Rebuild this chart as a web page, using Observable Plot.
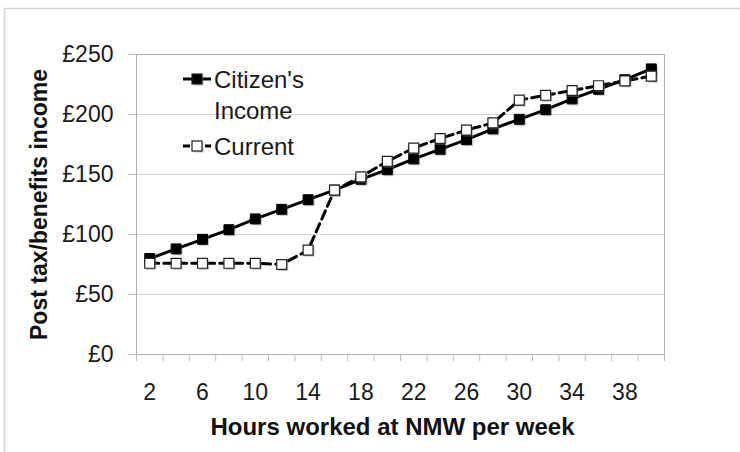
<!DOCTYPE html>
<html>
<head>
<meta charset="utf-8">
<script src="https://cdn.jsdelivr.net/npm/d3@7"></script>
<script src="https://cdn.jsdelivr.net/npm/@observablehq/plot@0.6"></script>
<style>
  body { margin: 0; background: #fff; }
  #chart { width: 740px; height: 452px; overflow: hidden; }
</style>
</head>
<body>
<div id="chart"></div>
<script>
const hours = [2, 4, 6, 8, 10, 12, 14, 16, 18, 20, 22, 24, 26, 28, 30, 32, 34, 36, 38, 40];
const citizensIncome = [80, 88, 96, 104, 113, 121, 129, 137, 146, 154, 163, 171, 179, 188, 196, 204, 213, 221, 229, 238];
const current = [76, 76, 76, 76, 76, 75, 87, 137, 148, 161, 172, 180, 187, 193, 212, 216, 220, 224, 228, 232];
const xTickLabels = [2, 6, 10, 14, 18, 22, 26, 30, 34, 38];
const xCategoryEdges = [1, 3, 5, 7, 9, 11, 13, 15, 17, 19, 21, 23, 25, 27, 29, 31, 33, 35, 37, 39, 41];
const yTicks = [0, 50, 100, 150, 200, 250];
const seriesNames = ["Citizen's\nIncome", "Current"];
const xTitle = "Hours worked at NMW per week";
const yTitle = "Post tax/benefits income";

const ciData = hours.map((h, i) => ({hours: h, value: citizensIncome[i]}));
const curData = hours.map((h, i) => ({hours: h, value: current[i]}));

const font = "Liberation Sans, Arial, Helvetica, sans-serif";

const plot = Plot.plot({
  width: 740,
  height: 452,
  marginLeft: 136,
  marginRight: 76,
  marginTop: 54,
  marginBottom: 98,
  style: {fontFamily: font, fontSize: "23px", color: "#1a1a1a", background: "#fff"},
  x: {domain: [1, 41], label: null, axis: null},
  y: {domain: [0, 250], label: null, axis: null},
  marks: [
    Plot.ruleY(yTicks.slice(1, -1), {stroke: "#d4d4d4", strokeWidth: 1}),
    Plot.frame({stroke: "#b0b0b0", strokeWidth: 1}),
    Plot.axisX({ticks: xCategoryEdges, tickSize: 7, tickFormat: () => "", stroke: "#bdbdbd", label: null}),
    Plot.axisX({ticks: xTickLabels, tickSize: 0, tickPadding: 29, fontSize: 23, label: null}),
    Plot.axisY({ticks: yTicks, tickSize: 8, tickFormat: () => "", stroke: "#bdbdbd", label: null}),
    Plot.axisY({ticks: yTicks, tickSize: 0, tickPadding: 23, tickFormat: d => "£" + d, fontSize: 23, label: null}),
    Plot.line(ciData, {x: "hours", y: "value", stroke: "#000", strokeWidth: 3}),
    Plot.line(curData, {x: "hours", y: "value", stroke: "#000", strokeWidth: 3, strokeDasharray: "9,5"}),
    Plot.dot(ciData, {x: "hours", y: "value", symbol: "square", r: 5.6, fill: "#777", fillOpacity: 0.45, dx: 1.5, dy: 1.5}),
    Plot.dot(ciData, {x: "hours", y: "value", symbol: "square", r: 5.6, fill: "#000", stroke: "#000", strokeWidth: 1}),
    Plot.dot(curData, {x: "hours", y: "value", symbol: "square", r: 5.6, fill: "#777", fillOpacity: 0.45, dx: 1.5, dy: 1.5}),
    Plot.dot(curData, {x: "hours", y: "value", symbol: "square", r: 5.6, fill: "#fff", stroke: "#222", strokeWidth: 1.2}),
    Plot.text([yTitle], {frameAnchor: "left", dx: -97, rotate: -90, textAnchor: "middle", lineAnchor: "middle", fontWeight: "bold", fontSize: 23, fill: "#111"}),
    Plot.text([xTitle], {frameAnchor: "bottom", dy: 73, dx: -8, textAnchor: "middle", lineAnchor: "middle", fontWeight: "bold", fontSize: 24, fill: "#111"})
  ]
});

const svg = d3.select(plot);
// outer chart-area border
svg.insert("rect", ":first-child")
  .attr("x", 4.5).attr("y", 8.5).attr("width", 800).attr("height", 600)
  .attr("fill", "none").attr("stroke", "#d2d2d2").attr("stroke-width", 1.5);

// legend
const lg = svg.append("g").attr("font-family", font).attr("font-size", 24)
  .attr("fill", "#1a1a1a").attr("text-anchor", "start");
const items = [
  {y: 79, dash: null, fill: "#000", lines: seriesNames[0].split("\n")},
  {y: 146, dash: "7,4", fill: "#fff", lines: [seriesNames[1]]}
];
items.forEach(it => {
  lg.append("line").attr("x1", 183).attr("x2", 211).attr("y1", it.y).attr("y2", it.y)
    .attr("stroke", "#000").attr("stroke-width", 3).attr("stroke-dasharray", it.dash);
  lg.append("rect").attr("x", 193.5).attr("y", it.y - 3.5).attr("width", 10).attr("height", 10)
    .attr("fill", "#777").attr("fill-opacity", 0.45);
  lg.append("rect").attr("x", 192).attr("y", it.y - 5).attr("width", 10).attr("height", 10)
    .attr("fill", it.fill).attr("stroke", "#222").attr("stroke-width", 1.2);
  it.lines.forEach((t, j) => {
    lg.append("text").attr("x", 214).attr("y", it.y + 9 + j * 31).attr("text-anchor", "start").text(t);
  });
});

document.getElementById("chart").appendChild(plot);
</script>
</body>
</html>
